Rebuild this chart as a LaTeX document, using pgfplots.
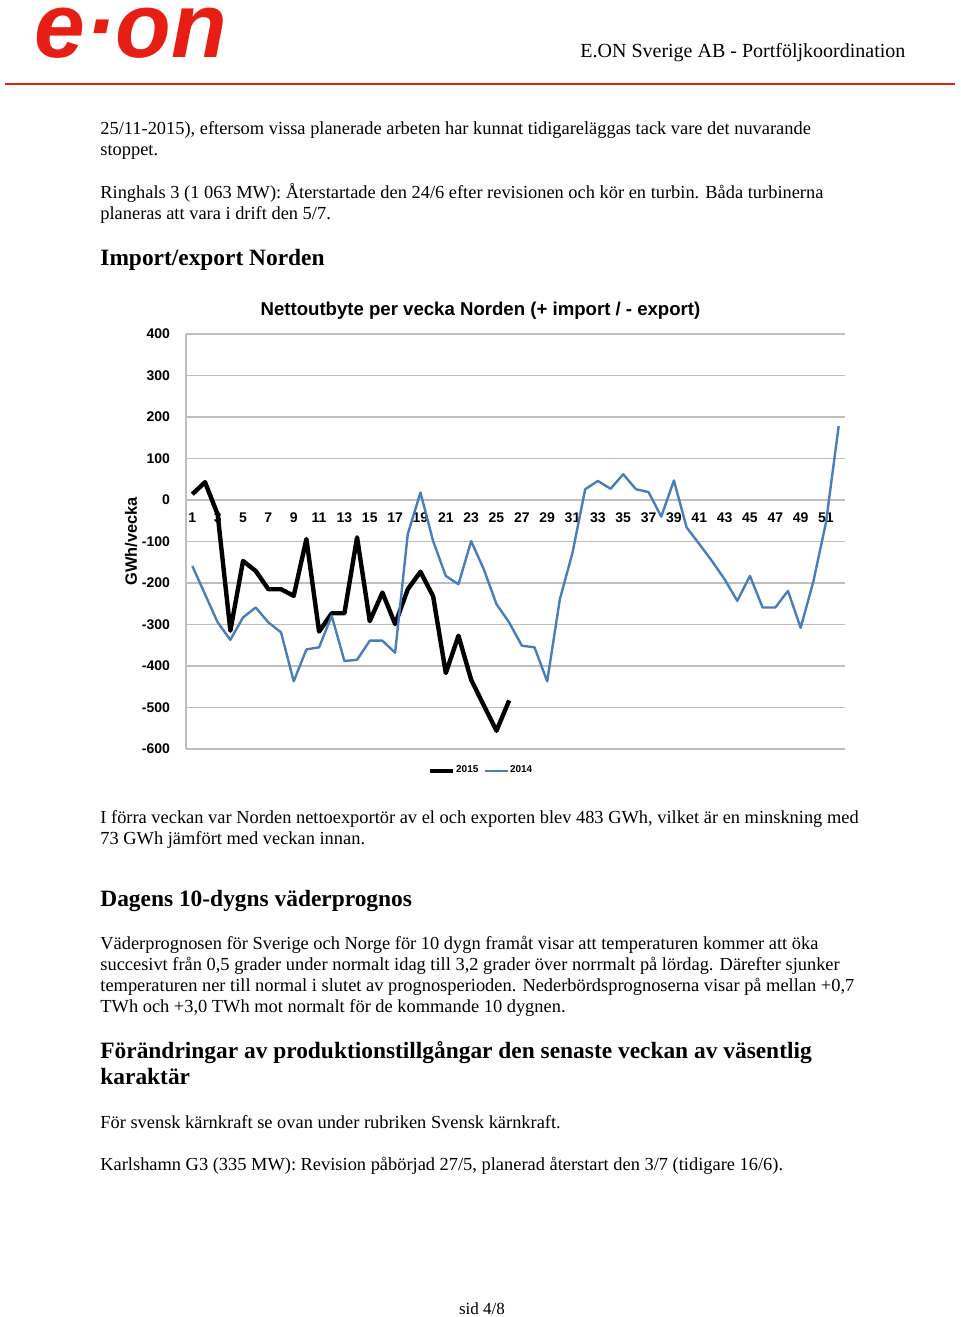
\documentclass[border=0pt]{standalone}
\usepackage{fontspec}
\setmainfont{Liberation Serif}
\setsansfont{Liberation Sans}
\usepackage{pgfplots}
\pgfplotsset{compat=1.18}
\definecolor{eonred}{RGB}{230,30,20}
\definecolor{line14}{RGB}{74,126,187}
\definecolor{gridgray}{RGB}{190,190,190}

\begin{document}
\begin{tikzpicture}
\path[fill=white] (0,0) rectangle (480pt,-658.5pt);
% page text, coordinates in pixels of the reference
\begin{scope}[x=0.5pt,y=-0.5pt,
  txt/.style={anchor=base west,inner sep=0pt,font=\fontsize{9.2}{11}\selectfont},
  hd/.style={anchor=base west,inner sep=0pt,font=\fontsize{11.7}{14}\selectfont\bfseries}]
\node[anchor=base west,inner sep=0pt,text=eonred,xscale=0.99,text height=24pt,text depth=0pt,
  font=\fontsize{46}{48}\selectfont\sffamily\bfseries\itshape] at (34,57) {e·on};
\node[anchor=base west,inner sep=0pt,font=\fontsize{10}{12}\selectfont] at (580,57) {E.ON Sverige AB - Portföljkoordination};
\draw[eonred,line width=1pt] (5,84) -- (955,84);
\node[txt] at (100,134) {25/11-2015), eftersom vissa planerade arbeten har kunnat tidigareläggas tack vare det nuvarande};
\node[txt] at (100,155) {stoppet.};
\node[txt] at (100,198) {Ringhals 3 (1 063 MW): Återstartade den 24/6 efter revisionen och kör en turbin. Båda turbinerna};
\node[txt] at (100,219) {planeras att vara i drift den 5/7.};
\node[hd] at (100,265) {Import/export Norden};
\node[txt] at (100,823) {I förra veckan var Norden nettoexportör av el och exporten blev 483 GWh, vilket är en minskning med};
\node[txt] at (100,844) {73 GWh jämfört med veckan innan.};
\node[hd] at (100,906) {Dagens 10-dygns väderprognos};
\node[txt] at (100,949) {Väderprognosen för Sverige och Norge för 10 dygn framåt visar att temperaturen kommer att öka};
\node[txt] at (100,970) {succesivt från 0,5 grader under normalt idag till 3,2 grader över norrmalt på lördag. Därefter sjunker};
\node[txt] at (100,991) {temperaturen ner till normal i slutet av prognosperioden. Nederbördsprognoserna visar på mellan +0,7};
\node[txt] at (100,1012) {TWh och +3,0 TWh mot normalt för de kommande 10 dygnen.};
\node[hd] at (100,1058) {Förändringar av produktionstillgångar den senaste veckan av väsentlig};
\node[hd] at (100,1084) {karaktär};
\node[txt] at (100,1128) {För svensk kärnkraft se ovan under rubriken Svensk kärnkraft.};
\node[txt] at (100,1170) {Karlshamn G3 (335 MW): Revision påbörjad 27/5, planerad återstart den 3/7 (tidigare 16/6).};
\node[anchor=base,inner sep=0pt,font=\fontsize{8.5}{10}\selectfont] at (482,1314) {sid 4/8};
\end{scope}

\begin{axis}[
    at={(93pt,-374.5pt)}, anchor=south west,
    scale only axis, width=329.5pt, height=207.5pt,
    xmin=0.5, xmax=52.5, ymin=-600, ymax=400,
    axis x line=middle, axis y line=left,
    axis line style={gridgray,-,line width=0.6pt},
    xtick={1,3,...,51}, ytick={-600,-500,...,400},
    major tick length=0pt,
    ymajorgrids, grid style={gridgray,line width=0.6pt},
    hide obscured x ticks=false, hide obscured y ticks=false,
    /pgf/number format/assume math mode=true,
    tick label style={font=\fontsize{7}{8}\selectfont\sffamily\bfseries},
    yticklabel style={anchor=east,xshift=-4.5pt},
    xticklabel style={anchor=north,yshift=-3pt},
    title={Nettoutbyte per vecka Norden (+ import / - export)},
    title style={font=\fontsize{9.3}{11}\selectfont\sffamily\bfseries,anchor=base,yshift=3pt,xshift=-17.5pt},
    ylabel={GWh/vecka},
    every axis y label/.style={at={(axis description cs:0,0.5)},xshift=-27.5pt,rotate=90,anchor=center,
      font=\fontsize{8.2}{9}\selectfont\sffamily\bfseries},
    legend columns=2,
    legend style={at={(0.5,0)},anchor=center,yshift=-11pt,xshift=-17.5pt,draw=none,fill=none,
      font=\fontsize{5}{6}\selectfont\sffamily\bfseries,
      /tikz/every even column/.append style={column sep=2.5pt},
      nodes={inner sep=0.3pt}},
    legend image code/.code={\draw[#1] (0pt,0pt) -- (11.5pt,0pt);},
]
\addplot[black,line width=2.2pt,line join=round] coordinates {
(1,14)(2,43)(3,-35)(4,-315)(5,-147)(6,-171)(7,-215)(8,-215)(9,-231)(10,-94)
(11,-317)(12,-273)(13,-273)(14,-90)(15,-292)(16,-223)(17,-299)(18,-215)(19,-173)(20,-232)
(21,-417)(22,-327)(23,-433)(24,-495)(25,-556)(26,-483)
};
\addlegendentry{2015}
\addplot[line14,line width=1.2pt,line join=round] coordinates {
(1,-159)(2,-227)(3,-295)(4,-337)(5,-283)(6,-259)(7,-295)(8,-319)(9,-437)(10,-360)
(11,-355)(12,-279)(13,-388)(14,-385)(15,-339)(16,-339)(17,-368)(18,-82)(19,18)(20,-99)
(21,-183)(22,-203)(23,-99)(24,-167)(25,-251)(26,-295)(27,-351)(28,-355)(29,-437)(30,-239)
(31,-127)(32,26)(33,46)(34,27)(35,62)(36,26)(37,19)(38,-40)(39,47)(40,-66)
(41,-106)(42,-147)(43,-191)(44,-243)(45,-183)(46,-259)(47,-259)(48,-219)(49,-308)(50,-197)
(51,-54)(52,178)
};
\addlegendentry{2014}
\end{axis}
\end{tikzpicture}
\end{document}
